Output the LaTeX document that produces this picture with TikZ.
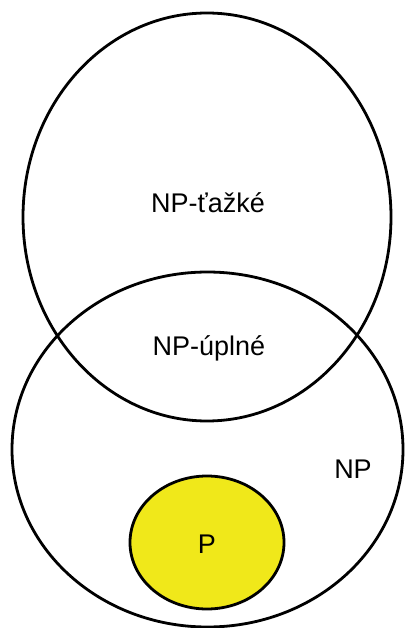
\documentclass[tikz,border=0pt]{standalone}
\usepackage{fontspec}
\setmainfont{Liberation Sans}
\usetikzlibrary{shapes.geometric}
\definecolor{pyellow}{HTML}{F0E81A}
\tikzset{
  setshape/.style={ellipse, draw=black, line width=2.8pt, inner sep=0pt},
  setlabel/.style={anchor=base, inner sep=0pt, font=\fontsize{27pt}{32pt}\selectfont}
}
\begin{document}
\begin{tikzpicture}[x=1pt,y=-1pt]
  \useasboundingbox (0,0) rectangle (404,628);
  % NP-hard region
  \node[setshape, minimum width=368pt, minimum height=408pt] (hard) at (207,217) {};
  % NP region
  \node[setshape, minimum width=391pt, minimum height=355pt] (np) at (207.5,449.5) {};
  % P region
  \node[setshape, fill=pyellow, minimum width=154pt, minimum height=133pt] (p) at (207,542.5) {};
  % labels
  \node[setlabel] (lhard) at (208,212) {NP-ťažké};
  \node[setlabel] (lcomplete) at (209,355) {NP-úplné};
  \node[setlabel] (lnp) at (353,478) {NP};
  \node[setlabel] (lp) at (207,553) {P};
\end{tikzpicture}
\end{document}
